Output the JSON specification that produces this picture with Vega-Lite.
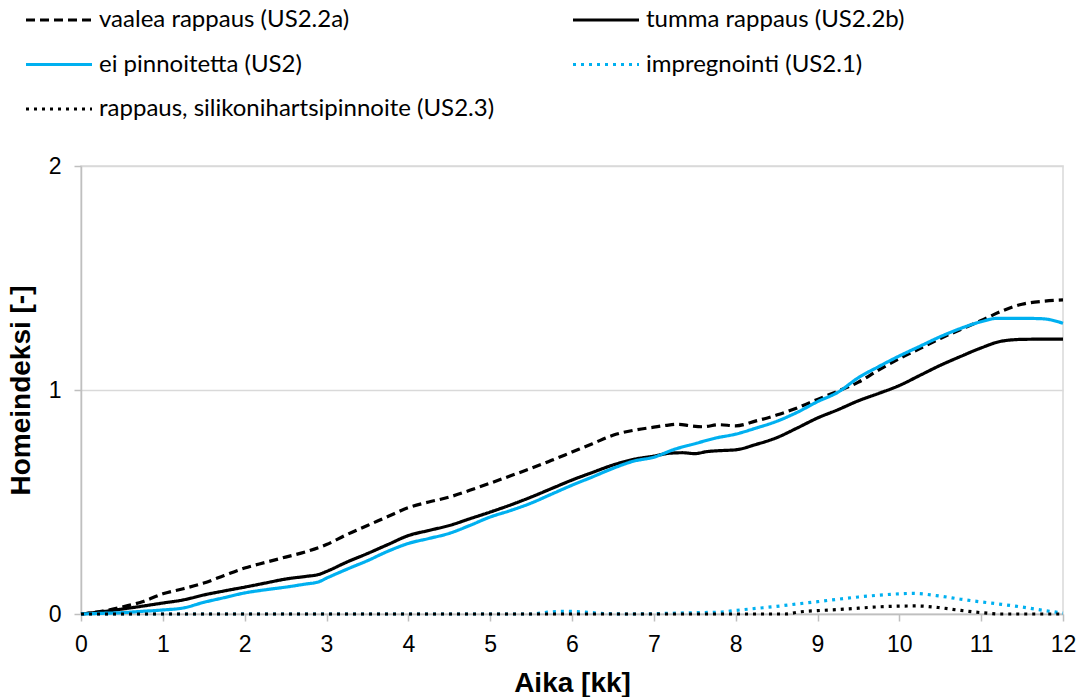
{
  "$schema": "https://vega.github.io/schema/vega-lite/v6.json",
  "autosize": {"type": "none"},
  "width": 982,
  "height": 448,
  "padding": {"left": 81, "top": 166, "right": 22, "bottom": 83},
  "background": "white",
  "config": {
    "view": {"stroke": "#d9d9d9", "strokeWidth": 1.5},
    "axis": {
      "labelFont": "Liberation Sans",
      "labelFontSize": 23,
      "labelColor": "#000000",
      "labelOverlap": false,
      "titleFont": "Liberation Sans",
      "titleFontSize": 28,
      "titleFontWeight": "bold",
      "titleColor": "#000000",
      "domainColor": "#bfbfbf",
      "domainWidth": 1.5,
      "tickColor": "#bfbfbf",
      "tickWidth": 1.5,
      "tickSize": 7,
      "gridColor": "#d9d9d9",
      "gridWidth": 1.5
    },
    "legend": {
      "labelFont": "Lato",
      "labelFontSize": 24,
      "labelColor": "#000000",
      "padding": 0
    }
  },
  "datasets": {
    "homeindeksi": [
      {"t": 0, "v": 0, "s": "vaalea rappaus (US2.2a)"},
      {"t": 0.25, "v": 0.012, "s": "vaalea rappaus (US2.2a)"},
      {"t": 0.5, "v": 0.031, "s": "vaalea rappaus (US2.2a)"},
      {"t": 0.75, "v": 0.055, "s": "vaalea rappaus (US2.2a)"},
      {"t": 1, "v": 0.09, "s": "vaalea rappaus (US2.2a)"},
      {"t": 1.25, "v": 0.113, "s": "vaalea rappaus (US2.2a)"},
      {"t": 1.5, "v": 0.138, "s": "vaalea rappaus (US2.2a)"},
      {"t": 1.75, "v": 0.172, "s": "vaalea rappaus (US2.2a)"},
      {"t": 2, "v": 0.205, "s": "vaalea rappaus (US2.2a)"},
      {"t": 2.25, "v": 0.23, "s": "vaalea rappaus (US2.2a)"},
      {"t": 2.5, "v": 0.254, "s": "vaalea rappaus (US2.2a)"},
      {"t": 2.75, "v": 0.278, "s": "vaalea rappaus (US2.2a)"},
      {"t": 3, "v": 0.31, "s": "vaalea rappaus (US2.2a)"},
      {"t": 3.25, "v": 0.355, "s": "vaalea rappaus (US2.2a)"},
      {"t": 3.5, "v": 0.395, "s": "vaalea rappaus (US2.2a)"},
      {"t": 3.75, "v": 0.435, "s": "vaalea rappaus (US2.2a)"},
      {"t": 4, "v": 0.475, "s": "vaalea rappaus (US2.2a)"},
      {"t": 4.25, "v": 0.5, "s": "vaalea rappaus (US2.2a)"},
      {"t": 4.5, "v": 0.522, "s": "vaalea rappaus (US2.2a)"},
      {"t": 4.75, "v": 0.552, "s": "vaalea rappaus (US2.2a)"},
      {"t": 5, "v": 0.584, "s": "vaalea rappaus (US2.2a)"},
      {"t": 5.25, "v": 0.617, "s": "vaalea rappaus (US2.2a)"},
      {"t": 5.5, "v": 0.65, "s": "vaalea rappaus (US2.2a)"},
      {"t": 5.75, "v": 0.686, "s": "vaalea rappaus (US2.2a)"},
      {"t": 6, "v": 0.723, "s": "vaalea rappaus (US2.2a)"},
      {"t": 6.25, "v": 0.76, "s": "vaalea rappaus (US2.2a)"},
      {"t": 6.5, "v": 0.798, "s": "vaalea rappaus (US2.2a)"},
      {"t": 6.75, "v": 0.82, "s": "vaalea rappaus (US2.2a)"},
      {"t": 7, "v": 0.834, "s": "vaalea rappaus (US2.2a)"},
      {"t": 7.15, "v": 0.842, "s": "vaalea rappaus (US2.2a)"},
      {"t": 7.3, "v": 0.847, "s": "vaalea rappaus (US2.2a)"},
      {"t": 7.45, "v": 0.84, "s": "vaalea rappaus (US2.2a)"},
      {"t": 7.6, "v": 0.836, "s": "vaalea rappaus (US2.2a)"},
      {"t": 7.8, "v": 0.845, "s": "vaalea rappaus (US2.2a)"},
      {"t": 8, "v": 0.84, "s": "vaalea rappaus (US2.2a)"},
      {"t": 8.25, "v": 0.862, "s": "vaalea rappaus (US2.2a)"},
      {"t": 8.5, "v": 0.888, "s": "vaalea rappaus (US2.2a)"},
      {"t": 8.75, "v": 0.92, "s": "vaalea rappaus (US2.2a)"},
      {"t": 9, "v": 0.958, "s": "vaalea rappaus (US2.2a)"},
      {"t": 9.25, "v": 0.995, "s": "vaalea rappaus (US2.2a)"},
      {"t": 9.5, "v": 1.035, "s": "vaalea rappaus (US2.2a)"},
      {"t": 9.75, "v": 1.09, "s": "vaalea rappaus (US2.2a)"},
      {"t": 10, "v": 1.14, "s": "vaalea rappaus (US2.2a)"},
      {"t": 10.25, "v": 1.185, "s": "vaalea rappaus (US2.2a)"},
      {"t": 10.5, "v": 1.23, "s": "vaalea rappaus (US2.2a)"},
      {"t": 10.75, "v": 1.27, "s": "vaalea rappaus (US2.2a)"},
      {"t": 11, "v": 1.31, "s": "vaalea rappaus (US2.2a)"},
      {"t": 11.25, "v": 1.352, "s": "vaalea rappaus (US2.2a)"},
      {"t": 11.5, "v": 1.383, "s": "vaalea rappaus (US2.2a)"},
      {"t": 11.75, "v": 1.396, "s": "vaalea rappaus (US2.2a)"},
      {"t": 12, "v": 1.402, "s": "vaalea rappaus (US2.2a)"},

      {"t": 0, "v": 0, "s": "tumma rappaus (US2.2b)"},
      {"t": 0.25, "v": 0.01, "s": "tumma rappaus (US2.2b)"},
      {"t": 0.5, "v": 0.022, "s": "tumma rappaus (US2.2b)"},
      {"t": 0.75, "v": 0.035, "s": "tumma rappaus (US2.2b)"},
      {"t": 1, "v": 0.049, "s": "tumma rappaus (US2.2b)"},
      {"t": 1.25, "v": 0.063, "s": "tumma rappaus (US2.2b)"},
      {"t": 1.5, "v": 0.085, "s": "tumma rappaus (US2.2b)"},
      {"t": 1.75, "v": 0.103, "s": "tumma rappaus (US2.2b)"},
      {"t": 2, "v": 0.12, "s": "tumma rappaus (US2.2b)"},
      {"t": 2.25, "v": 0.138, "s": "tumma rappaus (US2.2b)"},
      {"t": 2.5, "v": 0.156, "s": "tumma rappaus (US2.2b)"},
      {"t": 2.75, "v": 0.168, "s": "tumma rappaus (US2.2b)"},
      {"t": 2.9, "v": 0.176, "s": "tumma rappaus (US2.2b)"},
      {"t": 3, "v": 0.19, "s": "tumma rappaus (US2.2b)"},
      {"t": 3.25, "v": 0.232, "s": "tumma rappaus (US2.2b)"},
      {"t": 3.5, "v": 0.27, "s": "tumma rappaus (US2.2b)"},
      {"t": 3.75, "v": 0.31, "s": "tumma rappaus (US2.2b)"},
      {"t": 4, "v": 0.35, "s": "tumma rappaus (US2.2b)"},
      {"t": 4.25, "v": 0.373, "s": "tumma rappaus (US2.2b)"},
      {"t": 4.5, "v": 0.395, "s": "tumma rappaus (US2.2b)"},
      {"t": 4.75, "v": 0.425, "s": "tumma rappaus (US2.2b)"},
      {"t": 5, "v": 0.455, "s": "tumma rappaus (US2.2b)"},
      {"t": 5.25, "v": 0.487, "s": "tumma rappaus (US2.2b)"},
      {"t": 5.5, "v": 0.522, "s": "tumma rappaus (US2.2b)"},
      {"t": 5.75, "v": 0.56, "s": "tumma rappaus (US2.2b)"},
      {"t": 6, "v": 0.598, "s": "tumma rappaus (US2.2b)"},
      {"t": 6.25, "v": 0.632, "s": "tumma rappaus (US2.2b)"},
      {"t": 6.5, "v": 0.665, "s": "tumma rappaus (US2.2b)"},
      {"t": 6.75, "v": 0.69, "s": "tumma rappaus (US2.2b)"},
      {"t": 7, "v": 0.705, "s": "tumma rappaus (US2.2b)"},
      {"t": 7.2, "v": 0.718, "s": "tumma rappaus (US2.2b)"},
      {"t": 7.35, "v": 0.72, "s": "tumma rappaus (US2.2b)"},
      {"t": 7.5, "v": 0.716, "s": "tumma rappaus (US2.2b)"},
      {"t": 7.65, "v": 0.725, "s": "tumma rappaus (US2.2b)"},
      {"t": 7.85, "v": 0.73, "s": "tumma rappaus (US2.2b)"},
      {"t": 8, "v": 0.733, "s": "tumma rappaus (US2.2b)"},
      {"t": 8.25, "v": 0.757, "s": "tumma rappaus (US2.2b)"},
      {"t": 8.5, "v": 0.787, "s": "tumma rappaus (US2.2b)"},
      {"t": 8.75, "v": 0.83, "s": "tumma rappaus (US2.2b)"},
      {"t": 9, "v": 0.875, "s": "tumma rappaus (US2.2b)"},
      {"t": 9.25, "v": 0.912, "s": "tumma rappaus (US2.2b)"},
      {"t": 9.5, "v": 0.952, "s": "tumma rappaus (US2.2b)"},
      {"t": 9.75, "v": 0.985, "s": "tumma rappaus (US2.2b)"},
      {"t": 10, "v": 1.02, "s": "tumma rappaus (US2.2b)"},
      {"t": 10.25, "v": 1.065, "s": "tumma rappaus (US2.2b)"},
      {"t": 10.5, "v": 1.11, "s": "tumma rappaus (US2.2b)"},
      {"t": 10.75, "v": 1.15, "s": "tumma rappaus (US2.2b)"},
      {"t": 11, "v": 1.188, "s": "tumma rappaus (US2.2b)"},
      {"t": 11.25, "v": 1.218, "s": "tumma rappaus (US2.2b)"},
      {"t": 11.5, "v": 1.226, "s": "tumma rappaus (US2.2b)"},
      {"t": 11.75, "v": 1.227, "s": "tumma rappaus (US2.2b)"},
      {"t": 12, "v": 1.227, "s": "tumma rappaus (US2.2b)"},

      {"t": 0, "v": 0, "s": "ei pinnoitetta (US2)"},
      {"t": 0.25, "v": 0.003, "s": "ei pinnoitetta (US2)"},
      {"t": 0.5, "v": 0.006, "s": "ei pinnoitetta (US2)"},
      {"t": 0.75, "v": 0.012, "s": "ei pinnoitetta (US2)"},
      {"t": 1, "v": 0.018, "s": "ei pinnoitetta (US2)"},
      {"t": 1.25, "v": 0.027, "s": "ei pinnoitetta (US2)"},
      {"t": 1.5, "v": 0.052, "s": "ei pinnoitetta (US2)"},
      {"t": 1.75, "v": 0.073, "s": "ei pinnoitetta (US2)"},
      {"t": 2, "v": 0.094, "s": "ei pinnoitetta (US2)"},
      {"t": 2.25, "v": 0.108, "s": "ei pinnoitetta (US2)"},
      {"t": 2.5, "v": 0.12, "s": "ei pinnoitetta (US2)"},
      {"t": 2.75, "v": 0.134, "s": "ei pinnoitetta (US2)"},
      {"t": 2.9, "v": 0.143, "s": "ei pinnoitetta (US2)"},
      {"t": 3, "v": 0.16, "s": "ei pinnoitetta (US2)"},
      {"t": 3.25, "v": 0.2, "s": "ei pinnoitetta (US2)"},
      {"t": 3.5, "v": 0.238, "s": "ei pinnoitetta (US2)"},
      {"t": 3.75, "v": 0.28, "s": "ei pinnoitetta (US2)"},
      {"t": 4, "v": 0.315, "s": "ei pinnoitetta (US2)"},
      {"t": 4.25, "v": 0.337, "s": "ei pinnoitetta (US2)"},
      {"t": 4.5, "v": 0.36, "s": "ei pinnoitetta (US2)"},
      {"t": 4.75, "v": 0.395, "s": "ei pinnoitetta (US2)"},
      {"t": 5, "v": 0.433, "s": "ei pinnoitetta (US2)"},
      {"t": 5.25, "v": 0.462, "s": "ei pinnoitetta (US2)"},
      {"t": 5.5, "v": 0.495, "s": "ei pinnoitetta (US2)"},
      {"t": 5.75, "v": 0.535, "s": "ei pinnoitetta (US2)"},
      {"t": 6, "v": 0.575, "s": "ei pinnoitetta (US2)"},
      {"t": 6.25, "v": 0.612, "s": "ei pinnoitetta (US2)"},
      {"t": 6.5, "v": 0.65, "s": "ei pinnoitetta (US2)"},
      {"t": 6.75, "v": 0.682, "s": "ei pinnoitetta (US2)"},
      {"t": 7, "v": 0.7, "s": "ei pinnoitetta (US2)"},
      {"t": 7.25, "v": 0.735, "s": "ei pinnoitetta (US2)"},
      {"t": 7.5, "v": 0.76, "s": "ei pinnoitetta (US2)"},
      {"t": 7.75, "v": 0.785, "s": "ei pinnoitetta (US2)"},
      {"t": 8, "v": 0.803, "s": "ei pinnoitetta (US2)"},
      {"t": 8.25, "v": 0.83, "s": "ei pinnoitetta (US2)"},
      {"t": 8.5, "v": 0.86, "s": "ei pinnoitetta (US2)"},
      {"t": 8.75, "v": 0.9, "s": "ei pinnoitetta (US2)"},
      {"t": 9, "v": 0.948, "s": "ei pinnoitetta (US2)"},
      {"t": 9.25, "v": 0.99, "s": "ei pinnoitetta (US2)"},
      {"t": 9.5, "v": 1.055, "s": "ei pinnoitetta (US2)"},
      {"t": 9.75, "v": 1.105, "s": "ei pinnoitetta (US2)"},
      {"t": 10, "v": 1.152, "s": "ei pinnoitetta (US2)"},
      {"t": 10.25, "v": 1.195, "s": "ei pinnoitetta (US2)"},
      {"t": 10.5, "v": 1.238, "s": "ei pinnoitetta (US2)"},
      {"t": 10.75, "v": 1.275, "s": "ei pinnoitetta (US2)"},
      {"t": 11, "v": 1.305, "s": "ei pinnoitetta (US2)"},
      {"t": 11.2, "v": 1.32, "s": "ei pinnoitetta (US2)"},
      {"t": 11.5, "v": 1.32, "s": "ei pinnoitetta (US2)"},
      {"t": 11.75, "v": 1.318, "s": "ei pinnoitetta (US2)"},
      {"t": 12, "v": 1.298, "s": "ei pinnoitetta (US2)"},

      {"t": 0, "v": 0, "s": "impregnointi (US2.1)"},
      {"t": 5.5, "v": 0, "s": "impregnointi (US2.1)"},
      {"t": 5.7, "v": 0.008, "s": "impregnointi (US2.1)"},
      {"t": 5.9, "v": 0.012, "s": "impregnointi (US2.1)"},
      {"t": 6.1, "v": 0.01, "s": "impregnointi (US2.1)"},
      {"t": 6.4, "v": 0.002, "s": "impregnointi (US2.1)"},
      {"t": 6.7, "v": 0, "s": "impregnointi (US2.1)"},
      {"t": 7.2, "v": 0.003, "s": "impregnointi (US2.1)"},
      {"t": 7.5, "v": 0.006, "s": "impregnointi (US2.1)"},
      {"t": 7.8, "v": 0.008, "s": "impregnointi (US2.1)"},
      {"t": 8, "v": 0.016, "s": "impregnointi (US2.1)"},
      {"t": 8.25, "v": 0.025, "s": "impregnointi (US2.1)"},
      {"t": 8.5, "v": 0.034, "s": "impregnointi (US2.1)"},
      {"t": 8.75, "v": 0.045, "s": "impregnointi (US2.1)"},
      {"t": 9, "v": 0.055, "s": "impregnointi (US2.1)"},
      {"t": 9.25, "v": 0.066, "s": "impregnointi (US2.1)"},
      {"t": 9.5, "v": 0.076, "s": "impregnointi (US2.1)"},
      {"t": 9.75, "v": 0.084, "s": "impregnointi (US2.1)"},
      {"t": 10, "v": 0.09, "s": "impregnointi (US2.1)"},
      {"t": 10.15, "v": 0.092, "s": "impregnointi (US2.1)"},
      {"t": 10.5, "v": 0.08, "s": "impregnointi (US2.1)"},
      {"t": 10.75, "v": 0.066, "s": "impregnointi (US2.1)"},
      {"t": 11, "v": 0.054, "s": "impregnointi (US2.1)"},
      {"t": 11.25, "v": 0.043, "s": "impregnointi (US2.1)"},
      {"t": 11.5, "v": 0.031, "s": "impregnointi (US2.1)"},
      {"t": 11.75, "v": 0.017, "s": "impregnointi (US2.1)"},
      {"t": 12, "v": 0.004, "s": "impregnointi (US2.1)"},

      {"t": 0, "v": 0, "s": "rappaus, silikonihartsipinnoite (US2.3)"},
      {"t": 8.6, "v": 0, "s": "rappaus, silikonihartsipinnoite (US2.3)"},
      {"t": 8.8, "v": 0.01, "s": "rappaus, silikonihartsipinnoite (US2.3)"},
      {"t": 9, "v": 0.015, "s": "rappaus, silikonihartsipinnoite (US2.3)"},
      {"t": 9.25, "v": 0.02, "s": "rappaus, silikonihartsipinnoite (US2.3)"},
      {"t": 9.5, "v": 0.026, "s": "rappaus, silikonihartsipinnoite (US2.3)"},
      {"t": 9.75, "v": 0.032, "s": "rappaus, silikonihartsipinnoite (US2.3)"},
      {"t": 10, "v": 0.035, "s": "rappaus, silikonihartsipinnoite (US2.3)"},
      {"t": 10.2, "v": 0.036, "s": "rappaus, silikonihartsipinnoite (US2.3)"},
      {"t": 10.5, "v": 0.028, "s": "rappaus, silikonihartsipinnoite (US2.3)"},
      {"t": 10.75, "v": 0.016, "s": "rappaus, silikonihartsipinnoite (US2.3)"},
      {"t": 11, "v": 0.006, "s": "rappaus, silikonihartsipinnoite (US2.3)"},
      {"t": 11.25, "v": 0, "s": "rappaus, silikonihartsipinnoite (US2.3)"},
      {"t": 12, "v": 0, "s": "rappaus, silikonihartsipinnoite (US2.3)"}
    ]
  },
  "data": {"name": "homeindeksi"},
  "mark": {"type": "line", "strokeWidth": 3.2, "interpolate": "monotone"},
  "encoding": {
    "x": {
      "field": "t",
      "type": "quantitative",
      "title": "Aika [kk]",
      "scale": {"domain": [0, 12], "nice": false},
      "axis": {"values": [0, 1, 2, 3, 4, 5, 6, 7, 8, 9, 10, 11, 12], "grid": false, "labelPadding": 12, "titlePadding": 13, "labelFlush": false}
    },
    "y": {
      "field": "v",
      "type": "quantitative",
      "title": "Homeindeksi [-]",
      "scale": {"domain": [0, 2], "nice": false},
      "axis": {"values": [0, 1, 2], "labelExpr": "'' + datum.value", "grid": true, "labelPadding": 13, "titlePadding": 13, "labelFlush": false}
    },
    "color": {
      "field": "s",
      "type": "nominal",
      "title": null,
      "scale": {
        "domain": ["vaalea rappaus (US2.2a)", "ei pinnoitetta (US2)", "rappaus, silikonihartsipinnoite (US2.3)", "tumma rappaus (US2.2b)", "impregnointi (US2.1)"],
        "range": ["#000000", "#00b0f0", "#000000", "#000000", "#00b0f0"]
      },
      "legend": {
        "orient": "none",
        "legendX": -57,
        "legendY": -159,
        "columns": 2,
        "columnPadding": 76,
        "rowPadding": 18.5,
        "clipHeight": 26,
        "symbolType": "stroke",
        "symbolSize": 4356,
        "symbolStrokeWidth": 3.2,
        "labelOffset": 5,
        "labelLimit": 500
      }
    },
    "strokeDash": {
      "field": "s",
      "type": "nominal",
      "title": null,
      "scale": {
        "domain": ["vaalea rappaus (US2.2a)", "ei pinnoitetta (US2)", "rappaus, silikonihartsipinnoite (US2.3)", "tumma rappaus (US2.2b)", "impregnointi (US2.1)"],
        "range": [[9, 5], [1, 0], [3, 5], [1, 0], [3, 5]]
      }
    }
  }
}
